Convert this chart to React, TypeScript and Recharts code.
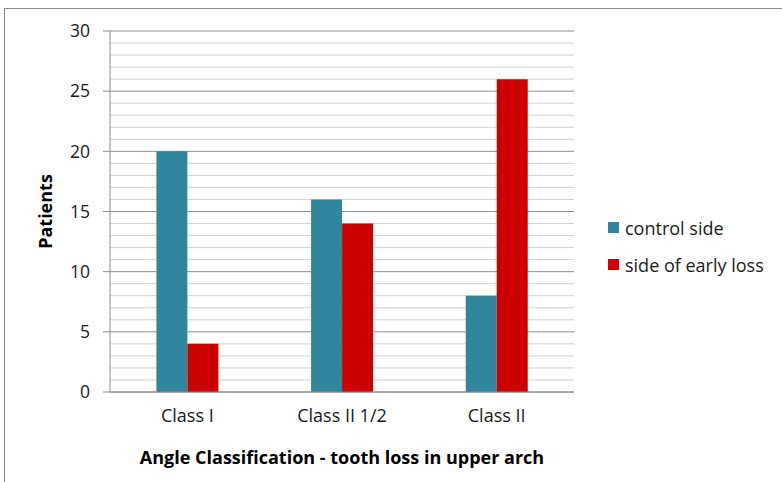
import { BarChart, Bar, XAxis, YAxis, CartesianGrid } from "recharts";

const categories = ["Class I", "Class II 1/2", "Class II"];
const controlSide = [20, 16, 8];
const earlyLoss = [4, 14, 26];
const majorTicks = [0, 5, 10, 15, 20, 25, 30];
const minorTicks = [1, 2, 3, 4, 6, 7, 8, 9, 11, 12, 13, 14, 16, 17, 18, 19, 21, 22, 23, 24, 26, 27, 28, 29];

const data = categories.map((name, i) => ({
  name,
  control: controlSide[i],
  loss: earlyLoss[i],
}));

const TEAL = "#31859C";
const RED = "#CC0000";
const FONT = "'Open Sans', sans-serif";

const legendItems = [
  { label: "control side", color: TEAL },
  { label: "side of early loss", color: RED },
];

export default function App() {
  return (
    <div style={{ position: "absolute", left: 0, top: 0, width: 782, height: 482, overflow: "hidden", background: "#fff" }}>
      <div
        style={{
          position: "absolute",
          left: 4,
          top: 8,
          width: 820,
          height: 520,
          border: "1px solid #868686",
        }}
      />
      <BarChart
        width={782}
        height={482}
        data={data}
        margin={{ top: 31, right: 208, left: 0, bottom: 60 }}
        barCategoryGap="30%"
        barGap={0}
        style={{ position: "absolute", left: 0, top: 0, fontFamily: FONT }}
      >
        <CartesianGrid vertical={false} horizontalValues={minorTicks} stroke="#d0d0d0" />
        <CartesianGrid vertical={false} horizontalValues={majorTicks} stroke="#8c8c8c" />
        <XAxis
          dataKey="name"
          height={30}
          axisLine={{ stroke: "#8c8c8c" }}
          tickLine={false}
          tickMargin={11}
          tick={{ fontSize: 18, fill: "#1a1a1a", fontFamily: FONT }}
          label={{
            value: "Angle Classification - tooth loss in upper arch",
            position: "insideBottom",
            offset: -42,
            style: { fontSize: 18, fontWeight: "bold", fill: "#000", fontFamily: FONT },
          }}
        />
        <YAxis
          width={110}
          domain={[0, 30]}
          ticks={majorTicks}
          interval={0}
          axisLine={{ stroke: "#8c8c8c" }}
          tickLine={{ stroke: "#8c8c8c" }}
          tickSize={7}
          tickMargin={13}
          tick={{ fontSize: 17.5, fill: "#1a1a1a", fontFamily: FONT }}
          label={{
            value: "Patients",
            angle: -90,
            position: "insideLeft",
            offset: 46,
            style: { fontSize: 18, fontWeight: "bold", fill: "#000", fontFamily: FONT, textAnchor: "middle" },
          }}
        />
        <Bar dataKey="control" name="control side" fill={TEAL} isAnimationActive={false} />
        <Bar dataKey="loss" name="side of early loss" fill={RED} isAnimationActive={false} />
      </BarChart>
      <div style={{ position: "absolute", left: 608, top: 209, fontFamily: FONT, fontSize: 18, color: "#1a1a1a" }}>
        {legendItems.map((it) => (
          <div key={it.label} style={{ display: "flex", alignItems: "center", height: 37 }}>
            <span style={{ width: 11, height: 11, background: it.color, marginRight: 6 }} />
            <span>{it.label}</span>
          </div>
        ))}
      </div>
    </div>
  );
}
